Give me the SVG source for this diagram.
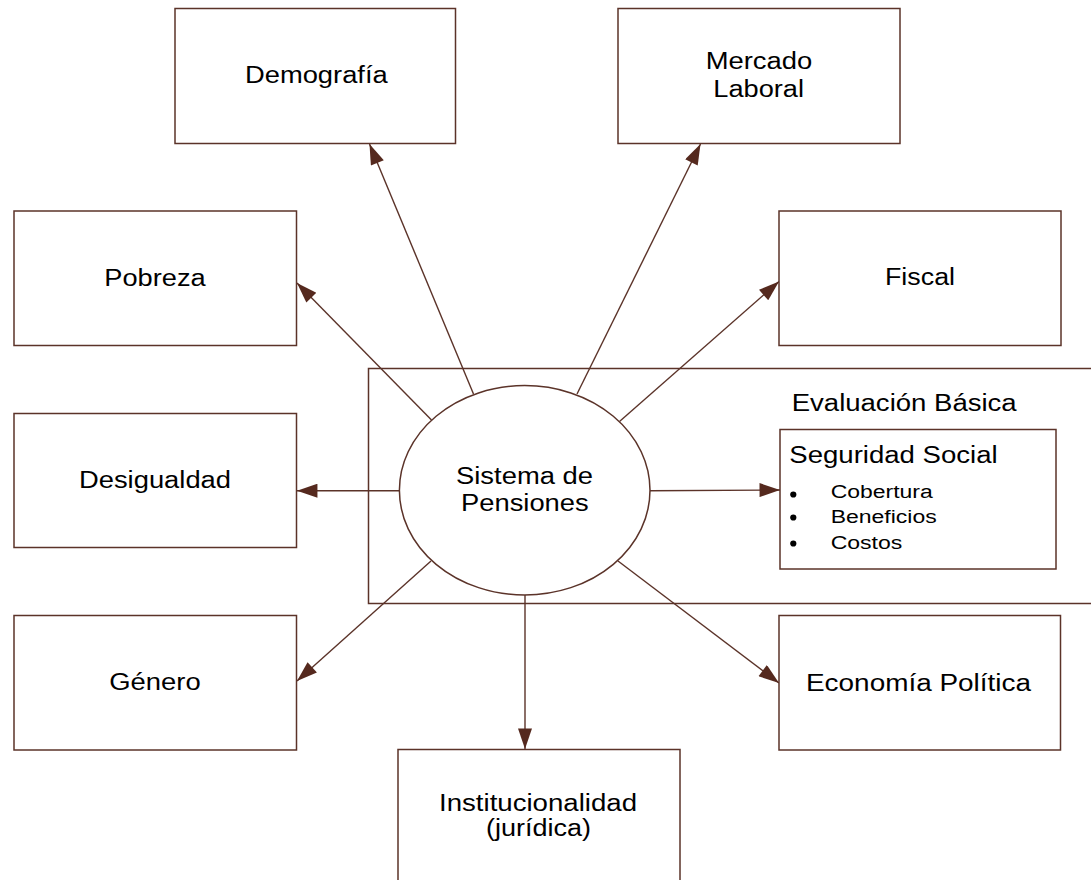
<svg xmlns="http://www.w3.org/2000/svg" width="1091" height="880" viewBox="0 0 1091 880">
<style>
.box{fill:#ffffff;stroke:#5b3329;stroke-width:1.5}
.frame{fill:none;stroke:#5b3329;stroke-width:1.5}
.conn{stroke:#5b3329;stroke-width:1.4;fill:none;marker-end:url(#arr)}
.t{font-family:"Liberation Sans",Arial,sans-serif;font-size:23px;fill:#000000}
.s{font-family:"Liberation Sans",Arial,sans-serif;font-size:18px;fill:#000000}
</style>
<defs>
<marker id="arr" markerUnits="userSpaceOnUse" markerWidth="22" markerHeight="14" viewBox="0 0 19 13" refX="19" refY="6.5" orient="auto">
<path d="M0,0 L19,6.5 L0,13 Z" fill="#55291e"/>
</marker>
</defs>
<rect id="evaluacion-frame" class="frame" x="368.5" y="368.5" width="730" height="235"/>
<g id="connectors">
<line class="conn" x1="473.5" y1="394" x2="369.5" y2="144"/>
<line class="conn" x1="577" y1="394" x2="700.5" y2="144"/>
<line class="conn" x1="431.5" y1="420" x2="297" y2="283"/>
<line class="conn" x1="619.5" y1="421.5" x2="779" y2="281.5"/>
<line class="conn" x1="399.5" y1="490.7" x2="297" y2="490.7"/>
<line class="conn" x1="650" y1="490.7" x2="780" y2="490"/>
<line class="conn" x1="431" y1="561" x2="297" y2="681"/>
<line class="conn" x1="618" y1="561" x2="779" y2="683"/>
<line class="conn" x1="525" y1="595" x2="525" y2="749"/>
</g>
<g id="demografia">
<rect class="box" x="175" y="8.5" width="280.5" height="135"/>
<text class="t" x="245" y="83.3" textLength="142.7" lengthAdjust="spacingAndGlyphs">Demografía</text>
</g>
<g id="mercado-laboral">
<rect class="box" x="618" y="8.5" width="282" height="135"/>
<text class="t" x="705.7" y="69.3" textLength="106.6" lengthAdjust="spacingAndGlyphs">Mercado</text>
<text class="t" x="713.3" y="97.3" textLength="90.7" lengthAdjust="spacingAndGlyphs">Laboral</text>
</g>
<g id="pobreza">
<rect class="box" x="14" y="211" width="282.5" height="134.5"/>
<text class="t" x="104.3" y="285.7" textLength="101.4" lengthAdjust="spacingAndGlyphs">Pobreza</text>
</g>
<g id="fiscal">
<rect class="box" x="779" y="211" width="282" height="134.5"/>
<text class="t" x="885" y="285" textLength="70" lengthAdjust="spacingAndGlyphs">Fiscal</text>
</g>
<g id="desigualdad">
<rect class="box" x="14" y="413.5" width="282.5" height="134"/>
<text class="t" x="79" y="488.3" textLength="152" lengthAdjust="spacingAndGlyphs">Desigualdad</text>
</g>
<g id="sistema-pensiones">
<ellipse class="box" cx="524.7" cy="490.3" rx="125.3" ry="104.7"/>
<text class="t" x="456" y="484" textLength="137" lengthAdjust="spacingAndGlyphs">Sistema de</text>
<text class="t" x="461" y="510.7" textLength="127.7" lengthAdjust="spacingAndGlyphs">Pensiones</text>
</g>
<g id="evaluacion-basica">
<text class="t" x="791.7" y="410.7" font-size="22" textLength="225" lengthAdjust="spacingAndGlyphs">Evaluación Básica</text>
</g>
<g id="seguridad-social">
<rect class="box" x="780" y="429.5" width="276" height="139.5"/>
<text class="t" x="789.3" y="462.7" textLength="208.4" lengthAdjust="spacingAndGlyphs">Seguridad Social</text>
<circle cx="793.3" cy="494.5" r="3.1" fill="#000"/>
<circle cx="793.3" cy="517.5" r="3.1" fill="#000"/>
<circle cx="793.3" cy="543.5" r="3.1" fill="#000"/>
<text class="s" x="830.7" y="498.3" textLength="102" lengthAdjust="spacingAndGlyphs">Cobertura</text>
<text class="s" x="830.7" y="522.7" textLength="106" lengthAdjust="spacingAndGlyphs">Beneficios</text>
<text class="s" x="830.7" y="549.3" textLength="71.6" lengthAdjust="spacingAndGlyphs">Costos</text>
</g>
<g id="genero">
<rect class="box" x="14" y="615.5" width="282.5" height="134.5"/>
<text class="t" x="109.3" y="690" textLength="91.4" lengthAdjust="spacingAndGlyphs">Género</text>
</g>
<g id="economia-politica">
<rect class="box" x="779" y="615.5" width="281.5" height="134.5"/>
<text class="t" x="806" y="691" textLength="225" lengthAdjust="spacingAndGlyphs">Economía Política</text>
</g>
<g id="institucionalidad">
<rect class="box" x="398" y="749.5" width="282" height="140"/>
<text class="t" x="439" y="810.7" textLength="198" lengthAdjust="spacingAndGlyphs">Institucionalidad</text>
<text class="t" x="486" y="836" textLength="105" lengthAdjust="spacingAndGlyphs">(jurídica)</text>
</g>
</svg>
